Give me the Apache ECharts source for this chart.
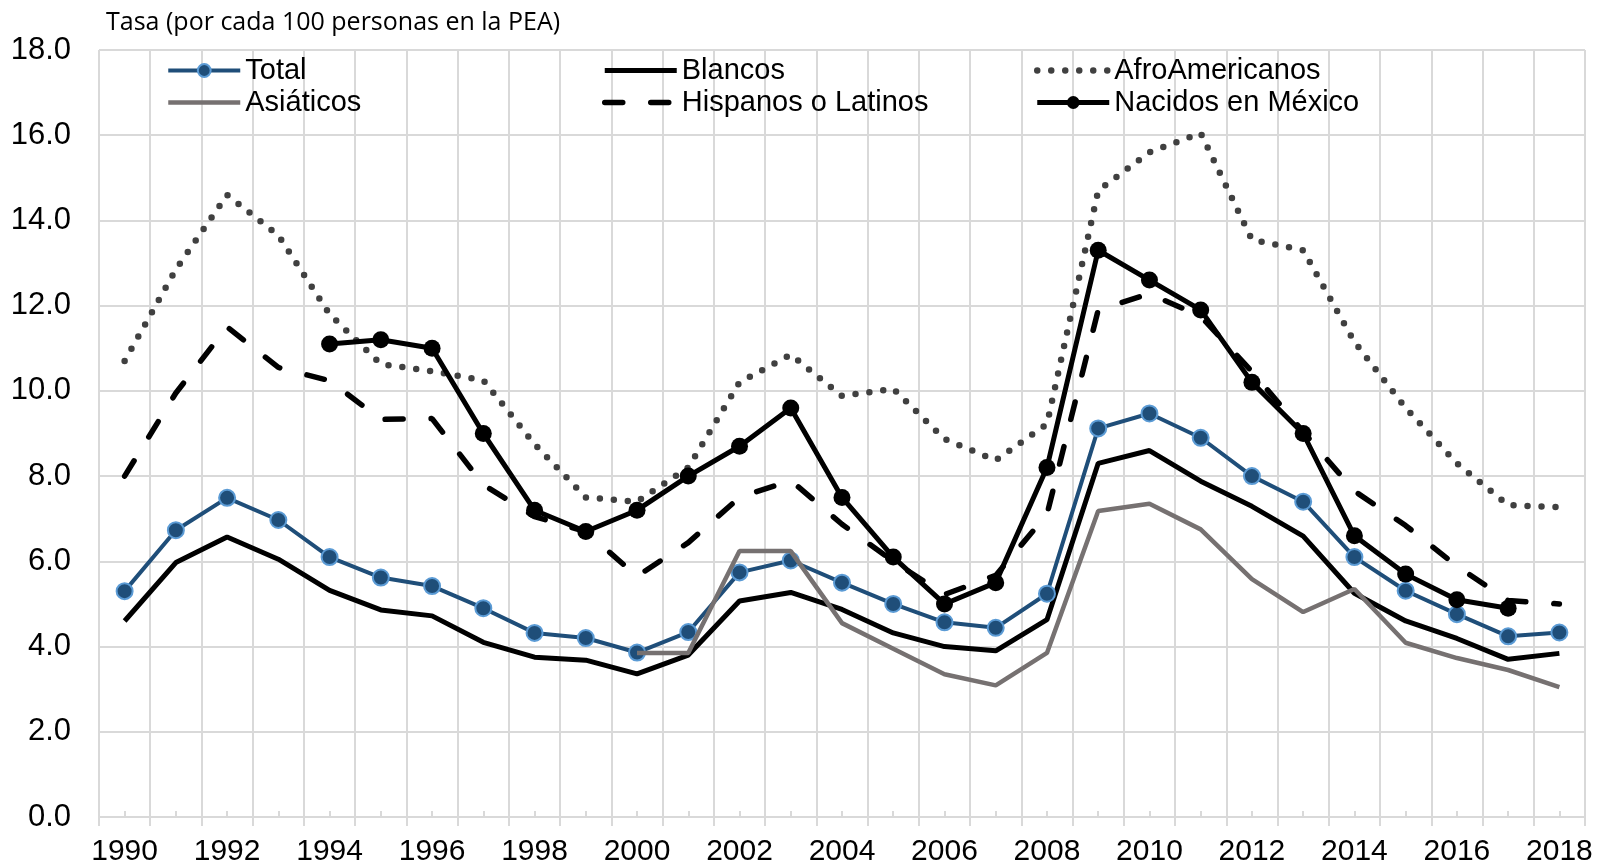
<!DOCTYPE html>
<html>
<head>
<meta charset="utf-8">
<script src="https://cdn.jsdelivr.net/npm/echarts@6/dist/echarts.min.js"></script>
<style>
  html, body { margin: 0; padding: 0; background: #fff; }
  #main { width: 1600px; height: 863px; }
</style>
</head>
<body>
<div id="main"></div>
<script>
const years = [];
for (let y = 1990; y <= 2018; y++) years.push(String(y));

const total = [5.3, 6.73, 7.49, 6.97, 6.1, 5.62, 5.42, 4.9, 4.32, 4.2, 3.86, 4.34, 5.74, 6.02, 5.5,
  5.0, 4.57, 4.44, 5.24, 9.12, 9.47, 8.9, 8.0, 7.4, 6.1, 5.31, 4.76, 4.24, 4.33];
const blancos = [4.6, 5.97, 6.57, 6.05, 5.32, 4.86, 4.72, 4.1, 3.75, 3.68, 3.36, 3.8, 5.07, 5.27, 4.87,
  4.32, 4.0, 3.9, 4.63, 8.3, 8.6, 7.88, 7.29, 6.59, 5.25, 4.6, 4.19, 3.7, 3.84];
const afroamericanos = [10.7, 12.85, 14.6, 13.65, 11.8, 10.63, 10.46, 10.25, 8.75, 7.5, 7.4, 8.2, 10.2, 10.85, 9.88,
  10.05, 8.87, 8.37, 9.22, 14.7, 15.6, 16.05, 13.55, 13.3, 11.15, 9.6, 8.3, 7.32, 7.27];
const asiaticos = [null, null, null, null, null, null, null, null, null, null, 3.85, 3.85, 6.24, 6.24, 4.55,
  3.95, 3.35, 3.09, 3.85, 7.18, 7.35, 6.75, 5.58, 4.81, 5.35, 4.09, 3.73, 3.45, 3.05];
const hispanos = [8.0, 9.95, 11.5, 10.55, 10.24, 9.33, 9.35, 7.8, 7.05, 6.7, 5.65, 6.44, 7.5, 7.9, 6.87,
  6.0, 5.22, 5.67, 7.1, 11.9, 12.28, 11.75, 10.45, 9.04, 7.65, 6.84, 5.89, 5.08, 5.0];
const nacidosMexico = [null, null, null, null, 11.1, 11.2, 11.0, 9.0, 7.2, 6.7, 7.2, 8.0, 8.7, 9.6, 7.5,
  6.1, 5.0, 5.5, 8.2, 13.3, 12.6, 11.9, 10.2, 9.0, 6.6, 5.7, 5.1, 4.9, null];

const FONT = 'Liberation Sans, Arial, sans-serif';
const GRID = '#d9d9d9';

var chart = echarts.init(document.getElementById('main'));

// legend entry for a plain line (no marker)
function lineOnly(name) {
  return { name: name, itemStyle: { opacity: 0, color: 'rgba(0,0,0,0)', borderWidth: 0 } };
}

function legendBox(items, left) {
  return {
    data: items,
    orient: 'vertical',
    left: left,
    top: 56,
    padding: 0,
    itemWidth: 72,
    itemHeight: 16,
    itemGap: 3,
    lineStyle: { width: 'inherit' },
    textStyle: { fontFamily: FONT, fontSize: 29, color: '#000', lineHeight: 28 }
  };
}

var option = {
  animation: false,
  title: {
    text: 'Tasa (por cada 100 personas en la PEA)',
    left: 101,
    top: 5,
    textStyle: { fontFamily: 'Open Sans', fontSize: 25, fontWeight: 'normal', color: '#000' }
  },
  legend: [
    legendBox(['Total', lineOnly('Asiáticos')], 166),
    legendBox([lineOnly('Blancos'), lineOnly('Hispanos o Latinos')], 602),
    legendBox([lineOnly('AfroAmericanos'), 'Nacidos en México'], 1034)
  ],
  grid: { left: 99, right: 15, top: 50, bottom: 46, outerBoundsMode: 'none' },
  xAxis: [
    {
      type: 'category',
      data: years,
      boundaryGap: true,
      axisLine: { lineStyle: { color: GRID, width: 2 } },
      axisTick: { show: true, interval: 0, length: 9, lineStyle: { color: GRID, width: 2 } },
      axisLabel: { interval: 1, margin: 20, fontFamily: FONT, fontSize: 30, color: '#000' },
      splitLine: { show: true, interval: 0, lineStyle: { color: GRID, width: 2 } }
    },
    {
      type: 'category',
      data: years,
      position: 'bottom',
      boundaryGap: true,
      axisLine: { show: false },
      axisTick: { show: true, alignWithLabel: true, inside: true, interval: 0, length: 6, lineStyle: { color: GRID, width: 2 } },
      axisLabel: { show: false },
      splitLine: { show: false }
    }
  ],
  yAxis: {
    type: 'value',
    min: 0,
    max: 18,
    interval: 2,
    axisLine: { show: false },
    axisTick: { show: false },
    axisLabel: {
      margin: 28,
      fontFamily: FONT,
      fontSize: 31,
      color: '#000',
      formatter: v => v.toFixed(1)
    },
    splitLine: { lineStyle: { color: GRID, width: 2 } }
  },
  series: [
    {
      name: 'Blancos',
      type: 'line',
      data: blancos,
      symbol: 'none',
      lineStyle: { color: '#000', width: 5 },
      itemStyle: { color: '#000' },
      z: 3
    },
    {
      name: 'Total',
      type: 'line',
      data: total,
      symbol: 'circle',
      symbolSize: 16,
      lineStyle: { color: '#1f4e79', width: 4 },
      itemStyle: { color: '#1f4e79', borderColor: '#5b9bd5', borderWidth: 2 },
      z: 4
    },
    {
      name: 'AfroAmericanos',
      type: 'line',
      data: afroamericanos,
      symbol: 'none',
      lineStyle: { color: '#404040', width: 6.5, type: [0, 14], cap: 'round' },
      itemStyle: { color: '#404040' },
      z: 3
    },
    {
      name: 'Asiáticos',
      type: 'line',
      data: asiaticos,
      symbol: 'none',
      lineStyle: { color: '#767171', width: 4.5 },
      itemStyle: { color: '#767171' },
      z: 5
    },
    {
      name: 'Hispanos o Latinos',
      type: 'line',
      data: hispanos,
      symbol: 'none',
      lineStyle: { color: '#000', width: 5.5, type: [18, 28], cap: 'round' },
      itemStyle: { color: '#000' },
      z: 3
    },
    {
      name: 'Nacidos en México',
      type: 'line',
      data: nacidosMexico,
      symbol: 'circle',
      symbolSize: 17,
      lineStyle: { color: '#000', width: 5 },
      itemStyle: { color: '#000' },
      z: 6
    }
  ]
};

chart.setOption(option);
</script>
</body>
</html>
